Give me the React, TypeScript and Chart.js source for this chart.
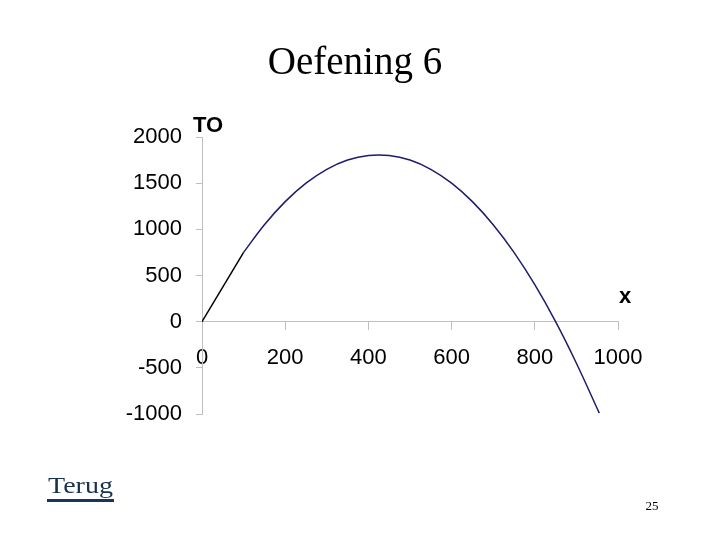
import React, { useEffect, useRef } from "react";
import Chart from "chart.js/auto";

const xValues = [0, 100, 150, 200, 250, 300, 350, 400, 450, 500, 550, 600, 650, 700, 750, 800, 850, 900, 955];
const toValues = [0, 750, 1050, 1300, 1500, 1650, 1750, 1800, 1800, 1750, 1650, 1500, 1300, 1050, 750, 400, 0, -450, -990];
const xTicks = [0, 200, 400, 600, 800, 1000];
const yTicks = [-1000, -500, 0, 500, 1000, 1500, 2000];
const titleText = "Oefening 6";
const yAxisTitle = "TO";
const xAxisTitle = "x";
const backLink = "Terug";
const pageNumber = "25";

const AXIS_GRAY = "#bfbfbf";
const LINE_NAVY = "#1c1c6b";

export default function App() {
  const canvasRef = useRef<HTMLCanvasElement | null>(null);

  useEffect(() => {
    const canvas = canvasRef.current;
    if (!canvas) return;

    const overlay = {
      id: "overlayText",
      afterDraw(chart: any) {
        const ctx = chart.ctx;
        const xs = chart.scales.x;
        const ys = chart.scales.y;
        ctx.save();
        ctx.fillStyle = "#000";
        ctx.font = "39px 'Liberation Serif', 'Times New Roman', serif";
        ctx.textAlign = "center";
        ctx.textBaseline = "alphabetic";
        ctx.fillText(titleText, 355, 74);

        ctx.font = "bold 22px 'Liberation Sans', Arial, sans-serif";
        ctx.textAlign = "left";
        ctx.fillText(yAxisTitle, xs.getPixelForValue(0) - 9, ys.top - 5);
        ctx.textAlign = "center";
        ctx.fillText(xAxisTitle, xs.right + 7, ys.getPixelForValue(0) - 19);

        ctx.fillStyle = "#17314f";
        ctx.font = "23px 'Liberation Serif', 'Times New Roman', serif";
        ctx.textAlign = "left";
        const w = ctx.measureText(backLink).width;
        ctx.save();
        ctx.translate(48, 493);
        ctx.scale(65 / w, 1);
        ctx.fillText(backLink, 0, 0);
        ctx.restore();
        ctx.fillStyle = "#17365d";
        ctx.fillRect(47, 499, 67, 3);

        ctx.fillStyle = "#000";
        ctx.font = "13px 'Liberation Serif', 'Times New Roman', serif";
        ctx.textAlign = "center";
        ctx.fillText(pageNumber, 652, 510);
        ctx.restore();
      },
    };

    const tickFont = { family: "'Liberation Sans', Arial, sans-serif", size: 22 };
    const plain = (v: any) => String(v);
    const points = xValues.map((x, i) => ({ x, y: toValues[i] }));

    const chart = new Chart(canvas, {
      type: "scatter",
      data: {
        datasets: [
          {
            data: points.slice(0, 2),
            showLine: true,
            borderColor: "#000000",
            borderWidth: 1.5,
            pointRadius: 0,
            tension: 0,
          },
          {
            data: points.slice(1),
            showLine: true,
            borderColor: LINE_NAVY,
            borderWidth: 1.5,
            pointRadius: 0,
            tension: 0.4,
          },
        ],
      },
      options: {
        responsive: false,
        animation: false,
        layout: { padding: { top: 137, right: 102, bottom: 126, left: 0 } },
        plugins: {
          legend: { display: false },
          tooltip: { enabled: false },
          title: { display: false },
        },
        scales: {
          x: {
            type: "linear",
            position: { y: 0 } as any,
            min: 0,
            max: 1000,
            afterBuildTicks: (s: any) => {
              s.ticks = xTicks.map((v) => ({ value: v }));
            },
            ticks: { font: tickFont, color: "#000", padding: 15, maxRotation: 0, autoSkip: false, callback: plain },
            grid: { drawOnChartArea: false, drawTicks: true, tickLength: 8, color: AXIS_GRAY },
            border: { color: AXIS_GRAY, width: 1 },
          },
          y: {
            type: "linear",
            min: -1000,
            max: 2000,
            afterBuildTicks: (s: any) => {
              s.ticks = yTicks.map((v) => ({ value: v }));
            },
            afterFit: (s: any) => {
              s.width = 202;
            },
            ticks: { font: tickFont, color: "#000", padding: 14, autoSkip: false, callback: plain },
            grid: { drawOnChartArea: false, drawTicks: true, tickLength: 6, color: AXIS_GRAY },
            border: { color: AXIS_GRAY, width: 1 },
          },
        },
      },
      plugins: [overlay],
    });

    return () => chart.destroy();
  }, []);

  return (
    <div style={{ position: "absolute", left: 0, top: 0, width: 720, height: 540, background: "#fff" }}>
      <canvas ref={canvasRef} width={720} height={540} />
    </div>
  );
}
